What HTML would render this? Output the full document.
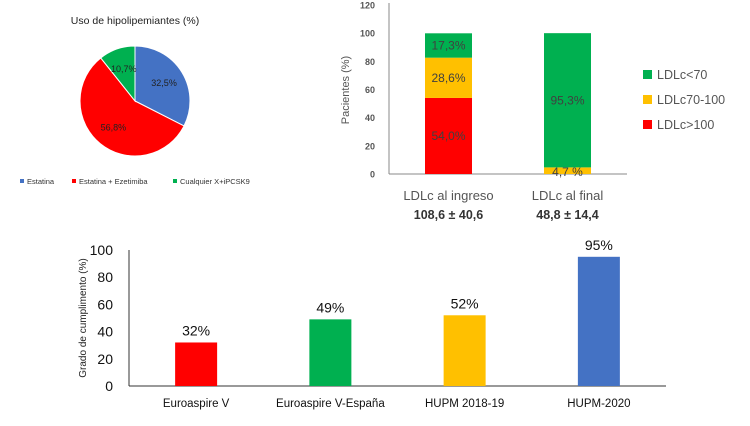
<!DOCTYPE html>
<html><head><meta charset="utf-8"><style>
body{margin:0;background:#fff;width:750px;height:421px;overflow:hidden}
svg{font-family:"Liberation Sans",sans-serif}
</style></head><body>
<svg width="750" height="421">
<g id="pie"></g>
<g id="stack"></g>
<g id="bars"></g>
</svg>
<script>
const NS="http://www.w3.org/2000/svg";
function mk(p,t,a,txt){const e=document.createElementNS(NS,t);for(const k in a)e.setAttribute(k,a[k]);if(txt!==undefined)e.textContent=txt;p.appendChild(e);return e;}

// Pie data
const pieLabels=["Estatina","Estatina + Ezetimiba","Cualquier X+iPCSK9"];
const pieValues=[32.5,56.8,10.7];
const pieText=["32,5%","56,8%","10,7%"];
const pieColors=["#4472c4","#ff0000","#00b050"];

// Stacked data
const stackCats=["LDLc al ingreso","LDLc al final"];
const stackSub=["108,6 ± 40,6","48,8 ± 14,4"];
const stackSeries=["LDLc>100","LDLc70-100","LDLc<70"];
const sRed=[54.0,0];
const sYellow=[28.6,4.7];
const sGreen=[17.3,95.3];
const stackText=[["54,0%","28,6%","17,3%"],["","4,7 %","95,3%"]];
const stackTicks=[0,20,40,60,80,100,120];

// Bar data
const barCats=["Euroaspire V","Euroaspire V-España","HUPM 2018-19","HUPM-2020"];
const barValues=[32,49,52,95];
const barTicks=[0,20,40,60,80,100];
const barColors=["#ff0000","#00b050","#ffc000","#4472c4"];

// ---- Pie
const pg=document.getElementById('pie');
let t=mk(pg,'text',{x:135,y:24,'font-size':10.5,'text-anchor':'middle',fill:'#222'},"Uso de hipolipemiantes (%)");

const cx=135,cy=101,r=55;
const tot=pieValues.reduce((a,b)=>a+b,0);
let ang=0;
pieValues.forEach((v,i)=>{
  const a0=ang,a1=ang+v/tot*2*Math.PI;ang=a1;
  const x0=cx+r*Math.sin(a0),y0=cy-r*Math.cos(a0),x1=cx+r*Math.sin(a1),y1=cy-r*Math.cos(a1);
  const s=mk(pg,'path',{d:`M${cx},${cy}L${x0},${y0}A${r},${r} 0 ${a1-a0>Math.PI?1:0} 1 ${x1},${y1}Z`,fill:pieColors[i],stroke:'#fff','stroke-width':1});
  
  const m=(a0+a1)/2,lr=r*0.62;
  const l=mk(pg,'text',{x:cx+lr*Math.sin(m),y:cy-lr*Math.cos(m)+3,'font-size':9,'text-anchor':'middle',fill:'#222'},pieText[i]);
  
});
let lx=[20,72,173];
pieLabels.forEach((n,i)=>{
  const sq=mk(pg,'rect',{x:lx[i],y:179,width:4,height:4,fill:pieColors[i]});
  
  const l=mk(pg,'text',{x:lx[i]+7,y:184,'font-size':7.5,fill:'#333'},n);
  
});

// ---- Stacked
const sg=document.getElementById('stack');
const sy=v=>174-v*(169/120);
const sx0=389,sband=119;
stackTicks.forEach(v=>{
  const l=mk(sg,'text',{x:375,y:sy(v)+3.5,'font-size':9,'font-weight':'bold','text-anchor':'end',fill:'#555'},v);
  
});
let a=mk(sg,'line',{x1:389,y1:3,x2:389,y2:174,stroke:'#888'});
a=mk(sg,'line',{x1:389,y1:174,x2:627,y2:174,stroke:'#888'});
t=mk(sg,'text',{x:349,y:90,'font-size':11,fill:'#555','text-anchor':'middle',transform:'rotate(-90 349 90)'},"Pacientes (%)");

const stCols=["#ff0000","#ffc000","#00b050"];
stackCats.forEach((c,i)=>{
  const vals=[sRed[i],sYellow[i],sGreen[i]];
  const xc=sx0+sband*(i+0.5);let base=0;
  vals.forEach((v,k)=>{
    if(v>0){
      const b=mk(sg,'rect',{x:xc-23.5,y:sy(base+v),width:47,height:sy(base)-sy(base+v),fill:stCols[k]});
      
    }
    if(stackText[i][k]){
      const my=k==1&&v<10?sy(base)+2:(sy(base)+sy(base+v))/2+4;
      const l=mk(sg,'text',{x:xc,y:my,'font-size':12,'text-anchor':'middle',fill:'#404040'},stackText[i][k]);
      
    }
    base+=v;
  });
  let l=mk(sg,'text',{x:xc,y:200,'font-size':13,'text-anchor':'middle',fill:'#555'},c);
  
  l=mk(sg,'text',{x:xc,y:219,'font-size':12.5,'font-weight':'bold','text-anchor':'middle',fill:'#333'},stackSub[i]);
  
});
[2,1,0].forEach((k,j)=>{
  const yy=70+j*25;
  const sq=mk(sg,'rect',{x:643,y:yy,width:9,height:9,fill:stCols[k]});
  
  const l=mk(sg,'text',{x:657,y:yy+9,'font-size':12.5,fill:'#555'},stackSeries[k]);
  
});

// ---- Bars
const bg=document.getElementById('bars');
const by=v=>386-v*1.36;
const bx0=129,bband=134.25;
barTicks.forEach(v=>{
  const l=mk(bg,'text',{x:113,y:by(v)+5,'font-size':14,'text-anchor':'end',fill:'#111'},v);
  
});
a=mk(bg,'line',{x1:129,y1:250,x2:129,y2:386,stroke:'#333'});
a=mk(bg,'line',{x1:129,y1:386,x2:666,y2:386,stroke:'#333'});
t=mk(bg,'text',{x:86,y:318,'font-size':10,fill:'#222','text-anchor':'middle',transform:'rotate(-90 86 318)'},"Grado de cumplimento (%)");

barCats.forEach((c,i)=>{
  const xc=bx0+bband*(i+0.5);
  const b=mk(bg,'rect',{x:xc-21,y:by(barValues[i]),width:42,height:386-by(barValues[i]),fill:barColors[i]});
  
  let l=mk(bg,'text',{x:xc,y:by(barValues[i])-7,'font-size':14,'text-anchor':'middle',fill:'#111'},barValues[i]+"%");
  
  l=mk(bg,'text',{x:xc,y:407,'font-size':11.5,'text-anchor':'middle',fill:'#111'},c);
  
});
</script>
</body></html>
